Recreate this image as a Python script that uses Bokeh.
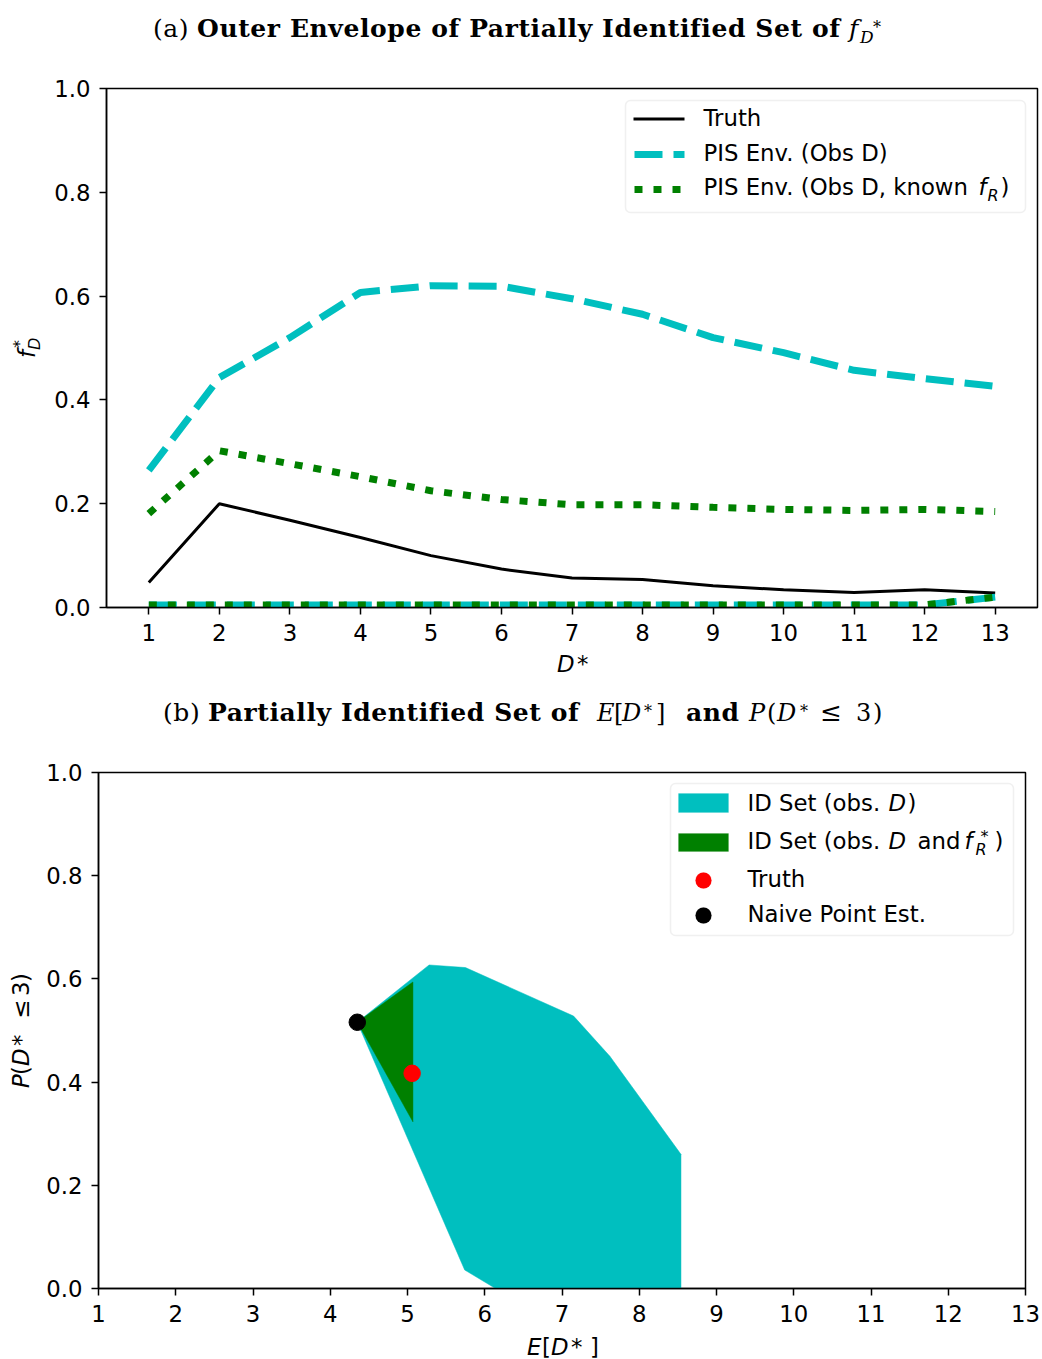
import numpy as np
from bokeh.plotting import figure
from bokeh.models import Range1d, FixedTicker, PrintfTickFormatter, Label, BoxAnnotation, Arrow, Div
from bokeh.layouts import column, row
from bokeh.embed import file_html
from bokeh.resources import INLINE

# ---------------- data: panel (a) ----------------
d_star = [1, 2, 3, 4, 5, 6, 7, 8, 9, 10, 11, 12, 13]
truth_f = [0.048, 0.200, 0.168, 0.135, 0.100, 0.074, 0.057, 0.054, 0.042, 0.034, 0.029, 0.034, 0.028]
pis_obs_upper = [0.264, 0.443, 0.520, 0.607, 0.620, 0.619, 0.595, 0.565, 0.520, 0.491, 0.457, 0.441, 0.426]
pis_obs_lower = [0.005, 0.005, 0.005, 0.005, 0.005, 0.005, 0.005, 0.005, 0.005, 0.005, 0.005, 0.005, 0.020]
pis_known_upper = [0.181, 0.302, 0.277, 0.252, 0.225, 0.208, 0.198, 0.198, 0.193, 0.189, 0.187, 0.189, 0.185]
pis_known_lower = [0.005, 0.005, 0.005, 0.005, 0.005, 0.005, 0.005, 0.005, 0.005, 0.005, 0.005, 0.005, 0.020]
y_ticks = [0.0, 0.2, 0.4, 0.6, 0.8, 1.0]

# ---------------- data: panel (b) ----------------
id_set_E = [4.35, 5.28, 5.75, 7.15, 7.62, 8.54, 8.54, 6.14, 5.74]
id_set_P = [0.516, 0.627, 0.622, 0.528, 0.450, 0.260, 0.0, 0.0, 0.036]
id_known_E = [4.35, 5.07, 5.07]
id_known_P = [0.516, 0.594, 0.323]
truth_E = [5.06]
truth_P = [0.417]
naive_E = [4.35]
naive_P = [0.516]
e_ticks = [1, 2, 3, 4, 5, 6, 7, 8, 9, 10, 11, 12, 13]

CYAN = "#00bfbf"
GREEN = "#008000"
SANS = "DejaVu Sans"
SERIF = "DejaVu Serif"
FS = 22.8
TS = 25      # title size
LS = 0.6     # title letter spacing


def style(p, xt, yt):
    p.title.visible = False
    p.xgrid.visible = False
    p.ygrid.visible = False
    p.outline_line_color = "black"
    p.outline_line_width = 1.5
    p.xaxis.ticker = FixedTicker(ticks=xt)
    p.yaxis.ticker = FixedTicker(ticks=yt)
    p.yaxis.formatter = PrintfTickFormatter(format="%.1f")
    for ax in p.axis:
        ax.major_tick_out = 7
        ax.major_tick_in = 0
        ax.minor_tick_out = 0
        ax.minor_tick_in = 0
        ax.axis_line_width = 1.5
        ax.major_tick_line_width = 1.5
        ax.major_label_text_font = SANS
        ax.major_label_text_font_size = "%spx" % FS
        ax.major_label_text_color = "black"
    p.xaxis.major_label_standoff = 9
    p.yaxis.major_label_standoff = 9


def put(p, fx, fy, x, y, text, size=FS, font=SANS, fstyle="normal"):
    # y is the intended page baseline; Bokeh's alphabetic anchor sits ~0.4em lower
    p.add_layout(Label(x=x - fx, y=fy - (y - 0.4 * size), x_units="screen", y_units="screen",
                       text=text, text_font=font, text_font_size="%spx" % size,
                       text_font_style=fstyle, text_align="left",
                       text_baseline="alphabetic", text_color="black"))


def box(p, fx, fy, l, r, t, b, **kw):
    p.add_layout(BoxAnnotation(left=l - fx, right=r - fx, top=fy - t, bottom=fy - b,
                               left_units="screen", right_units="screen",
                               top_units="screen", bottom_units="screen", **kw))


def seg(p, fx, fy, x0, x1, y, **kw):
    p.add_layout(Arrow(end=None, x_start=x0 - fx, x_end=x1 - fx, y_start=fy - y, y_end=fy - y,
                       start_units="screen", end_units="screen", **kw))


def run(x, y, text, size, font, weight="normal", fstyle="normal", rot=False, ls=0.0):
    inner = ("position:absolute;left:0px;top:%.1fpx;font-family:'%s';font-size:%spx;"
             "font-weight:%s;font-style:%s;line-height:1;white-space:nowrap;color:#000;"
             "letter-spacing:%spx;"
             % (-0.846 * size, font, size, weight, fstyle, ls))
    tr = "transform-origin:0 0;transform:rotate(-90deg);" if rot else ""
    return ('<span style="position:absolute;left:%.1fpx;top:%.1fpx;%s">'
            '<span style="%s">%s</span></span>' % (x, y, tr, inner, text))


def text_div(w, h, runs):
    html = ('<div style="position:relative;width:%dpx;height:%dpx;margin:0;padding:0;">%s</div>'
            % (w, h, "".join(runs)))
    return Div(text=html, width=w, height=h, margin=(0, 0, 0, 0))


# ================= title (a) =================
title_a = text_div(1042, 60, [
    run(153, 37, "(a)", TS, SERIF, ls=LS),
    run(197, 37, "Outer Envelope of Partially Identified Set of", TS, SERIF, "bold", ls=LS),
    run(849, 37, "f", TS, SERIF, fstyle="italic"),
    run(873, 33, "*", 16, SERIF),
    run(860, 43, "D", 17, SERIF, fstyle="italic"),
])

# ================= panel (a) =================
p1 = figure(width=997, height=590, output_backend="svg", toolbar_location=None,
            x_range=Range1d(0.4, 13.6), y_range=Range1d(0, 1),
            min_border_left=61, min_border_right=5, min_border_top=28, min_border_bottom=43)
style(p1, d_star, y_ticks)

p1.line(d_star, truth_f, line_color="black", line_width=3)
p1.line(d_star, pis_obs_upper, line_color=CYAN, line_width=7, line_dash="28 11")
p1.line(d_star, pis_obs_lower, line_color=CYAN, line_width=7, line_dash="28 11")
p1.line(d_star, pis_known_upper, line_color=GREEN, line_width=7, line_dash="8 11")
p1.line(d_star, pis_known_lower, line_color=GREEN, line_width=7, line_dash="8 11")

F1X, F1Y = 106, 607
box(p1, F1X, F1Y, 625, 1025, 100, 212, fill_color="white", fill_alpha=0.8,
    line_color="#cccccc", line_width=1.5, border_radius=5)
seg(p1, F1X, F1Y, 633, 684, 118.5, line_color="black", line_width=3)
seg(p1, F1X, F1Y, 634, 684, 154, line_color=CYAN, line_width=7, line_dash="28 11")
seg(p1, F1X, F1Y, 634, 684, 189, line_color=GREEN, line_width=7, line_dash="8 11")
put(p1, F1X, F1Y, 703, 127, "Truth")
put(p1, F1X, F1Y, 703, 161.5, "PIS Env. (Obs D)")
put(p1, F1X, F1Y, 703, 196, "PIS Env. (Obs D, known")
put(p1, F1X, F1Y, 978, 196, "f", FS, SANS, "italic")
put(p1, F1X, F1Y, 987, 201, "R", 16, SANS, "italic")
put(p1, F1X, F1Y, 1000, 196, ")")

ylab_a = text_div(45, 590, [
    run(35, 298, "f", FS, SANS, fstyle="italic", rot=True),
    run(25, 288, "*", 16, SANS, rot=True),
    run(40, 290, "D", 16, SANS, fstyle="italic", rot=True),
])

# ================= x label (a) + title (b) =================
mid = text_div(1042, 100, [
    run(557, 22, "D", FS, SANS, fstyle="italic"),
    run(577, 22, "*", FS, SANS),
    run(163, 71, "(b)", TS, SERIF, ls=LS),
    run(208, 71, "Partially Identified Set of", TS, SERIF, "bold", ls=LS),
    run(597, 71, "E", 24, SERIF, fstyle="italic"),
    run(614, 71, "[", 24, SERIF),
    run(622, 71, "D", 24, SERIF, fstyle="italic"),
    run(644, 67, "*", 16, SERIF),
    run(656, 71, "]", 24, SERIF),
    run(686, 71, "and", TS, SERIF, "bold", ls=LS),
    run(749, 71, "P", 24, SERIF, fstyle="italic"),
    run(767, 71, "(", 24, SERIF),
    run(777, 71, "D", 24, SERIF, fstyle="italic"),
    run(800, 67, "*", 16, SERIF),
    run(820, 71, "&le;", 26, SERIF),
    run(856, 71, "3", 24, SERIF),
    run(873, 71, ")", 24, SERIF),
])

# ================= panel (b) =================
p2 = figure(width=1004, height=580, output_backend="svg", toolbar_location=None,
            x_range=Range1d(1, 13), y_range=Range1d(0, 1),
            min_border_left=60, min_border_right=17, min_border_top=22, min_border_bottom=42)
style(p2, e_ticks, y_ticks)

p2.patch(id_set_E, id_set_P, fill_color=CYAN, line_color=CYAN, line_width=0.5)
p2.patch(id_known_E, id_known_P, fill_color=GREEN, line_color=GREEN, line_width=0.5)
p2.scatter(truth_E, truth_P, size=16.5, fill_color="red", line_color="red")
p2.scatter(naive_E, naive_P, size=16.5, fill_color="black", line_color="black")

F2X, F2Y = 98, 1288
box(p2, F2X, F2Y, 670, 1013, 783, 935, fill_color="white", fill_alpha=0.8,
    line_color="#cccccc", line_width=1.5, border_radius=5)
box(p2, F2X, F2Y, 678, 728, 793, 812, fill_color=CYAN, fill_alpha=1.0, line_color=CYAN, line_width=0.5)
box(p2, F2X, F2Y, 678, 728, 833, 851, fill_color=GREEN, fill_alpha=1.0, line_color=GREEN, line_width=0.5)
box(p2, F2X, F2Y, 695, 711, 872, 888, fill_color="red", fill_alpha=1.0, line_color="red",
    line_width=0.5, border_radius=8)
box(p2, F2X, F2Y, 695, 711, 907, 923, fill_color="black", fill_alpha=1.0, line_color="black",
    line_width=0.5, border_radius=8)
put(p2, F2X, F2Y, 747, 811.5, "ID Set (obs.")
put(p2, F2X, F2Y, 888, 811.5, "D", FS, SANS, "italic")
put(p2, F2X, F2Y, 907, 811.5, ")")
put(p2, F2X, F2Y, 747, 850, "ID Set (obs.")
put(p2, F2X, F2Y, 888, 850, "D", FS, SANS, "italic")
put(p2, F2X, F2Y, 917, 850, "and")
put(p2, F2X, F2Y, 964, 850, "f", FS, SANS, "italic")
put(p2, F2X, F2Y, 980, 842, "*", 16)
put(p2, F2X, F2Y, 975, 855, "R", 16, SANS, "italic")
put(p2, F2X, F2Y, 994, 850, ")")
put(p2, F2X, F2Y, 747, 887.5, "Truth")
put(p2, F2X, F2Y, 747, 922.5, "Naive Point Est.")

ylab_b = text_div(38, 580, [
    run(29, 338, "P", FS, SANS, fstyle="italic", rot=True),
    run(29, 325, "(", FS, SANS, rot=True),
    run(29, 316, "D", FS, SANS, fstyle="italic", rot=True),
    run(29, 296, "*", FS, SANS, rot=True),
    run(29, 269, "&le;", FS, SANS, rot=True),
    run(29, 246, "3", FS, SANS, rot=True),
    run(29, 232, ")", FS, SANS, rot=True),
])

xlab_b = text_div(1042, 29, [
    run(527, 25, "E", FS, SANS, fstyle="italic"),
    run(542, 25, "[", FS, SANS),
    run(551, 25, "D", FS, SANS, fstyle="italic"),
    run(571, 25, "*", FS, SANS),
    run(590, 25, "]", FS, SANS),
])

layout = column(title_a, row(ylab_a, p1), mid, row(ylab_b, p2), xlab_b)
open("out.html", "w").write(file_html(layout, INLINE))
